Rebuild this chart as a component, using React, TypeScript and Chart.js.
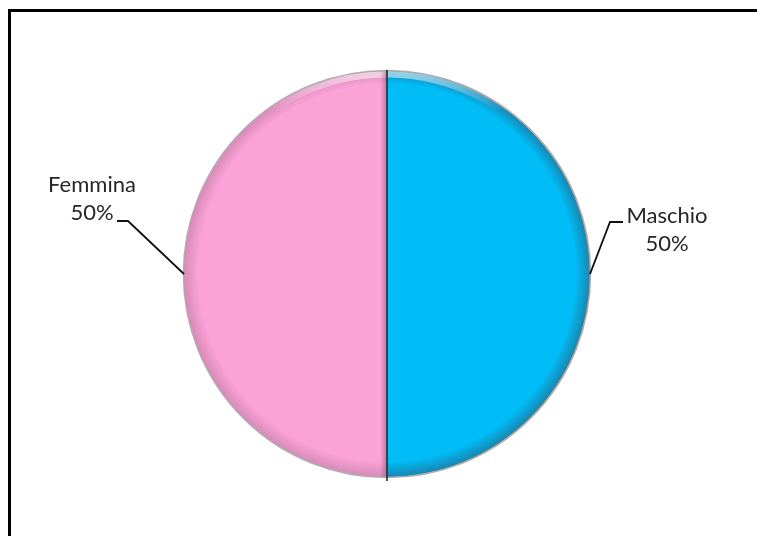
import React, { useEffect, useRef } from "react";
import { Chart, registerables } from "chart.js";

Chart.register(...registerables);

// ---- data ----
const categories: string[] = ["Maschio", "Femmina"];
const values: number[] = [50, 50];
const sliceColors: string[] = ["#00BCF7", "#FBA2D6"];
const edgeColors: string[] = ["#1687B3", "#D78BB8"];

// ---- label layout (relative to the slice's rim point) ----
const labelLayout = [
  { elbowDx: 20, elbowDy: -52, tailDx: 13, textDx: 77, textDy: -58 },
  { elbowDx: -56, elbowDy: -53, tailDx: -11, textDx: -92, textDy: -89 },
];
const LINE_HEIGHT = 28;
const PIE_RADIUS = 203;

const decorPlugin = {
  id: "decor",
  beforeDraw(chart: any) {
    const { ctx, width, height } = chart;
    ctx.save();
    ctx.fillStyle = "#ffffff";
    ctx.fillRect(0, 0, width, height);
    ctx.fillStyle = "#000000";
    ctx.fillRect(8, 9, width - 8, 3);
    ctx.fillRect(8, 9, 3, height - 9);
    ctx.restore();
  },
  afterDatasetsDraw(chart: any) {
    const { ctx } = chart;
    const meta = chart.getDatasetMeta(0);
    const arc0 = meta.data[0];
    if (!arc0) return;
    const cx = arc0.x;
    const cy = arc0.y;
    const r = arc0.outerRadius;
    ctx.save();
    ctx.beginPath();
    ctx.arc(cx, cy, r, 0, Math.PI * 2);
    ctx.clip();
    // top highlight band
    const hl = ctx.createLinearGradient(0, cy - r, 0, cy - r + 40);
    hl.addColorStop(0, "rgba(255,255,255,0.6)");
    hl.addColorStop(1, "rgba(255,255,255,0)");
    ctx.beginPath();
    ctx.arc(cx, cy, r - 3, Math.PI * 1.08, Math.PI * 1.92);
    ctx.lineWidth = 7;
    ctx.strokeStyle = hl;
    ctx.stroke();
    // shadow beside divider on left slice
    const sh = ctx.createLinearGradient(cx - 7, 0, cx, 0);
    sh.addColorStop(0, "rgba(150,70,110,0)");
    sh.addColorStop(1, "rgba(150,70,110,0.5)");
    ctx.fillStyle = sh;
    ctx.fillRect(cx - 7, cy - r, 7, 2 * r);
    ctx.restore();

    // outline ring
    ctx.save();
    ctx.beginPath();
    ctx.arc(cx, cy, r + 0.5, 0, Math.PI * 2);
    ctx.lineWidth = 1.6;
    ctx.strokeStyle = "rgba(160,160,160,0.85)";
    ctx.stroke();
    // divider
    ctx.beginPath();
    ctx.moveTo(cx, cy - r - 1);
    ctx.lineTo(cx, cy + r + 4);
    ctx.lineWidth = 1.6;
    ctx.strokeStyle = "#2b2b2b";
    ctx.stroke();
    ctx.restore();

    // labels
    const total = values.reduce((a, b) => a + b, 0);
    ctx.save();
    ctx.font = "22px Lato, 'Liberation Sans', sans-serif";
    ctx.fillStyle = "#262626";
    ctx.textAlign = "center";
    ctx.textBaseline = "middle";
    meta.data.forEach((arc: any, i: number) => {
      const mid = (arc.startAngle + arc.endAngle) / 2;
      const px = cx + r * Math.cos(mid);
      const py = cy + r * Math.sin(mid);
      const L = labelLayout[i];
      const ex = px + L.elbowDx;
      const ey = py + L.elbowDy;
      ctx.beginPath();
      ctx.moveTo(px, py);
      ctx.lineTo(ex, ey);
      ctx.lineTo(ex + L.tailDx, ey);
      ctx.lineWidth = 1.8;
      ctx.strokeStyle = "#111111";
      ctx.stroke();
      const pct = Math.round((values[i] / total) * 100) + "%";
      const tx = px + L.textDx;
      const ty = py + L.textDy;
      ctx.fillText(categories[i], tx, ty);
      ctx.fillText(pct, tx, ty + LINE_HEIGHT);
    });
    ctx.restore();
  },
};

export default function App() {
  const ref = useRef<HTMLCanvasElement | null>(null);
  useEffect(() => {
    document.body.style.margin = "0";
    const canvas = ref.current;
    if (!canvas) return;
    const chart = new Chart(canvas, {
      type: "pie",
      data: {
        labels: categories,
        datasets: [
          {
            data: values,
            borderWidth: 0,
            backgroundColor: (c: any) => {
              const chart = c.chart;
              const a = chart.chartArea;
              const i = c.dataIndex ?? 0;
              if (!a) return sliceColors[i];
              const cx = (a.left + a.right) / 2;
              const cy = (a.top + a.bottom) / 2;
              const g = chart.ctx.createRadialGradient(cx, cy - 20, 0, cx, cy, PIE_RADIUS);
              g.addColorStop(0, sliceColors[i]);
              g.addColorStop(0.93, sliceColors[i]);
              g.addColorStop(1, edgeColors[i]);
              return g;
            },
          },
        ],
      },
      options: {
        responsive: false,
        animation: false,
        radius: PIE_RADIUS,
        layout: { padding: { left: 20, right: 3, top: 20, bottom: 8 } },
        plugins: {
          legend: { display: false },
          tooltip: { enabled: false },
        },
      } as any,
      plugins: [decorPlugin],
    });
    return () => chart.destroy();
  }, []);
  return (
    <div style={{ position: "relative", width: 757, height: 536 }}>
      <canvas ref={ref} width={757} height={536} style={{ display: "block" }} />
    </div>
  );
}
